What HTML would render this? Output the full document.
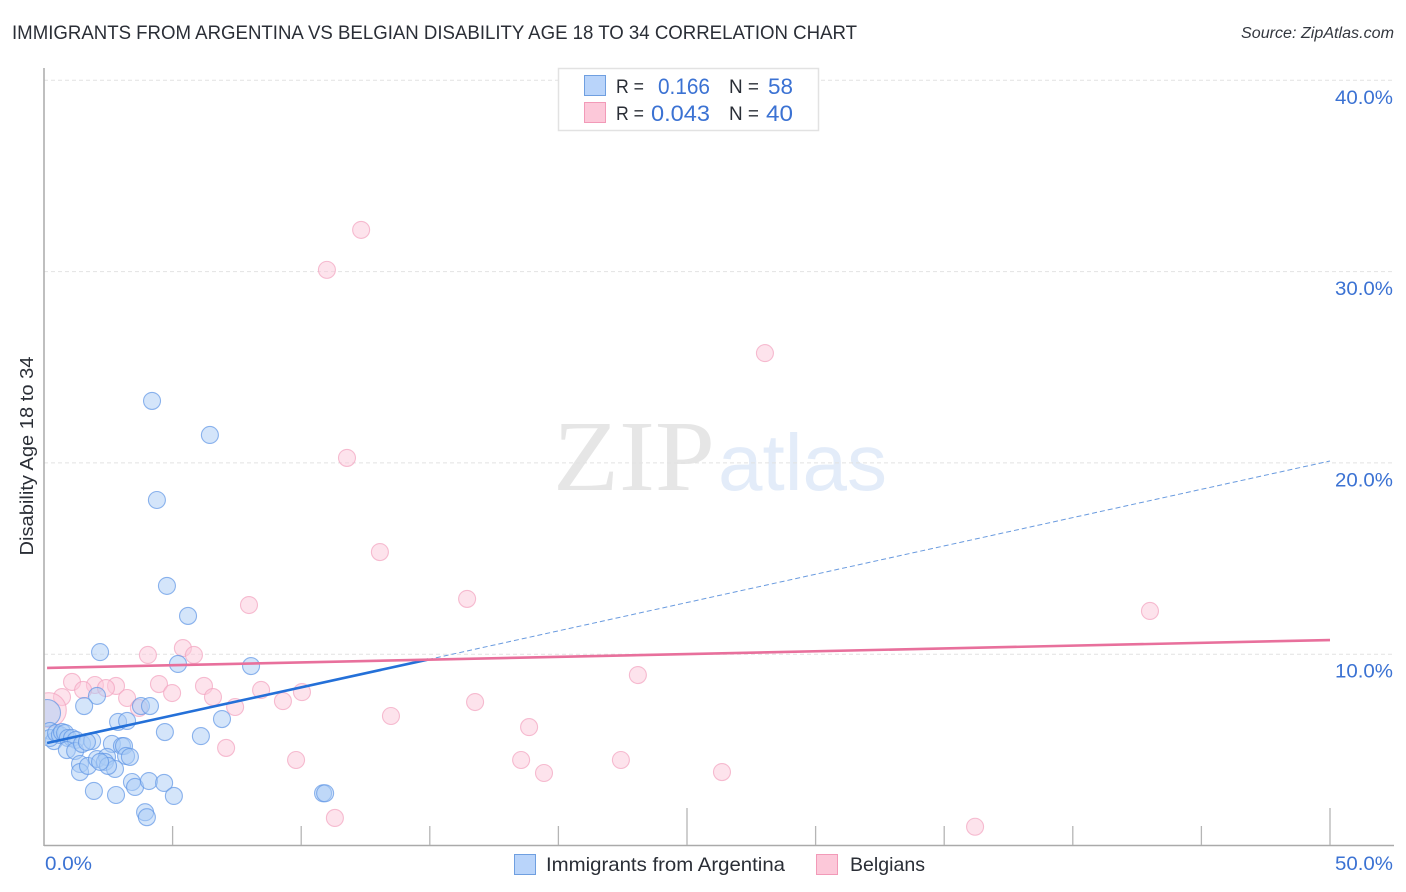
<!DOCTYPE html>
<html lang="en">
<head>
<meta charset="utf-8">
<title>Immigrants from Argentina vs Belgian Disability Age 18 to 34 Correlation Chart</title>
<style>
html,body{margin:0;padding:0;background:#fff;width:1406px;height:892px;overflow:hidden}
svg{display:block}
text{font-family:"Liberation Sans",sans-serif}
</style>
</head>
<body>
<svg id="chart" xmlns="http://www.w3.org/2000/svg" width="1406" height="892" viewBox="0 0 1406 892">
  <defs>
    <clipPath id="plot-clip"><rect x="45" y="60" width="1350" height="786"/></clipPath>
  </defs>
  <rect x="0" y="0" width="1406" height="892" fill="#ffffff"/>
  <text x="12" y="39" font-size="19" fill="#2a2e36" textLength="845" lengthAdjust="spacingAndGlyphs">IMMIGRANTS FROM ARGENTINA VS BELGIAN DISABILITY AGE 18 TO 34 CORRELATION CHART</text>
  <text x="1394" y="38" font-size="15.5" font-style="italic" fill="#33373f" text-anchor="end" textLength="153" lengthAdjust="spacingAndGlyphs">Source: ZipAtlas.com</text>
  <g id="watermark">
    <text x="553" y="490" font-size="101" fill="#e6e6e6" textLength="162" lengthAdjust="spacingAndGlyphs" style="font-family:'Liberation Serif',serif">ZIP</text>
    <text x="718" y="490" font-size="80" fill="#e3ecf9" textLength="169" lengthAdjust="spacingAndGlyphs">atlas</text>
  </g>
  <g id="grid"></g>
  <g id="axes"></g>
  <g id="points" clip-path="url(#plot-clip)"></g>
  <g id="trends"></g>
  <g id="labels"></g>
  <text transform="translate(33,456) rotate(-90)" font-size="18.5" fill="#2a2e36" text-anchor="middle" textLength="199" lengthAdjust="spacingAndGlyphs">Disability Age 18 to 34</text>

  <g>
    <rect x="558.5" y="68.5" width="260" height="62" fill="#ffffff" stroke="#e2e2e2" stroke-width="1.5"/>
    <rect x="584.5" y="75.5" width="21" height="20" fill="#b9d4fa" stroke="#6f9fe0" stroke-width="1"/>
    <rect x="584.5" y="102.5" width="21" height="20" fill="#fcc8d9" stroke="#f29ab8" stroke-width="1"/>
    <text x="616" y="93" font-size="19" fill="#2a2e36" textLength="28" lengthAdjust="spacingAndGlyphs">R =</text>
    <text x="710" y="94" font-size="22" fill="#3b72d3" text-anchor="end" textLength="52" lengthAdjust="spacingAndGlyphs">0.166</text>
    <text x="729" y="93" font-size="19" fill="#2a2e36" textLength="30" lengthAdjust="spacingAndGlyphs">N =</text>
    <text x="793" y="94" font-size="22" fill="#3b72d3" text-anchor="end" textLength="25" lengthAdjust="spacingAndGlyphs">58</text>
    <text x="616" y="120" font-size="19" fill="#2a2e36" textLength="28" lengthAdjust="spacingAndGlyphs">R =</text>
    <text x="710" y="121" font-size="22" fill="#3b72d3" text-anchor="end" textLength="59" lengthAdjust="spacingAndGlyphs">0.043</text>
    <text x="729" y="120" font-size="19" fill="#2a2e36" textLength="30" lengthAdjust="spacingAndGlyphs">N =</text>
    <text x="793" y="121" font-size="22" fill="#3b72d3" text-anchor="end" textLength="27" lengthAdjust="spacingAndGlyphs">40</text>
  </g>

  <g>
    <rect x="514.5" y="854.5" width="21" height="20" fill="#b9d4fa" stroke="#6f9fe0" stroke-width="1"/>
    <text x="546" y="871" font-size="19.5" fill="#2a2e36" textLength="239" lengthAdjust="spacingAndGlyphs">Immigrants from Argentina</text>
    <rect x="816.5" y="854.5" width="21" height="20" fill="#fcc8d9" stroke="#f29ab8" stroke-width="1"/>
    <text x="850" y="871" font-size="19.5" fill="#2a2e36" textLength="75" lengthAdjust="spacingAndGlyphs">Belgians</text>
  </g>
</svg>
<script>
const xTicks = [0, 5, 10, 15, 20, 25, 30, 35, 40, 45, 50];
const xMajorTicks = [0, 25, 50];
const xTickLabels = ["0.0%", "50.0%"];
const yTicks = [10, 20, 30, 40];
const yTickLabels = ["10.0%", "20.0%", "30.0%", "40.0%"];

const argentinaX = [4.20,6.45,4.39,4.78,5.60,2.18,5.21,8.05,2.06,1.56,3.77,4.12,2.88,3.23,6.92,4.70,6.10,0.12,0.23,0.39,0.23,0.47,0.62,0.70,0.82,0.93,1.09,1.24,0.89,1.21,1.48,1.87,1.67,1.40,1.40,1.71,2.64,3.03,3.11,3.19,3.34,2.06,2.45,2.37,2.76,2.49,2.18,3.42,3.54,4.08,4.67,5.05,1.94,2.80,3.93,4.00,10.85,10.93];
const argentinaY = [23.24,21.46,18.06,13.57,12.00,10.11,9.49,9.38,7.82,7.29,7.29,7.29,6.46,6.51,6.61,5.93,5.72,6.93,5.99,5.46,5.62,5.88,5.78,5.93,5.88,5.62,5.62,5.52,4.99,4.94,5.31,5.46,5.41,4.26,3.84,4.16,5.31,5.20,5.20,4.68,4.63,4.52,4.63,4.37,4.00,4.16,4.37,3.32,3.06,3.37,3.27,2.59,2.85,2.64,1.74,1.48,2.73,2.73];
const argentinaWeight = [1,1,1,1,1,1,1,1,1,1,1,1,1,1,1,1,1,2.5,1,1,1,1,1,1,1,1,1,1,1,1,1,1,1,1,1,1,1,1,1,1,1,1,1,1,1,1,1,1,1,1,1,1,1,1,1,1,1,1];

const belgiansX = [12.33,11.00,28.03,11.78,13.06,16.45,43.00,7.97,5.40,5.83,4.04,23.09,4.47,1.09,1.98,2.80,2.41,1.52,0.70,3.23,4.98,6.22,6.57,7.43,8.44,9.29,10.03,3.69,16.76,13.49,18.86,7.08,9.80,18.55,22.43,19.44,26.36,11.31,36.20,0.19];
const belgiansY = [32.18,30.09,25.74,20.26,15.34,12.89,12.26,12.57,10.32,9.96,9.96,8.91,8.44,8.55,8.39,8.34,8.23,8.13,7.76,7.71,7.97,8.34,7.76,7.24,8.13,7.55,8.02,7.19,7.50,6.77,6.19,5.10,4.47,4.47,4.47,3.79,3.84,1.44,0.98,7.08];
const belgiansWeight = [1,1,1,1,1,1,1,1,1,1,1,1,1,1,1,1,1,1,1,1,1,1,1,1,1,1,1,1,1,1,1,1,1,1,1,1,1,1,1,4.2];

const argentinaTrendX = [0.12, 14.93, 50];
const argentinaTrendY = [5.36, 9.72, 20.1];
const belgiansTrendX = [0.12, 50];
const belgiansTrendY = [9.28, 10.74];

const SVG_NS = "http://www.w3.org/2000/svg";
function xScale(v) { return 44 + v * 25.72; }
function yScale(v) { return 845.5 - v * 19.13; }
function make(tag, parent, attrs) {
  const el = document.createElementNS(SVG_NS, tag);
  for (const k in attrs) el.setAttribute(k, attrs[k]);
  parent.appendChild(el);
  return el;
}
const gridG = document.getElementById("grid");
const axesG = document.getElementById("axes");
const pointsG = document.getElementById("points");
const trendsG = document.getElementById("trends");
const labelsG = document.getElementById("labels");

yTicks.forEach(function (t, i) {
  const line = make("line", gridG, {x1: 44, x2: 1394, y1: yScale(t), y2: yScale(t), stroke: "#e2e2e2", "stroke-width": 1, "stroke-dasharray": "4 3"});
  
  
  const label = make("text", labelsG, {x: 1393, y: yScale(t) + 23.5, "font-size": 19.5, fill: "#3b72d3", "text-anchor": "end", textLength: 58, lengthAdjust: "spacingAndGlyphs"});
  label.textContent = yTickLabels[i];
  
  
});

const yAxis = make("line", axesG, {x1: 44, x2: 44, y1: 68, y2: 846, stroke: "#aaaaaa", "stroke-width": 1.5});


const xAxis = make("line", axesG, {x1: 44, x2: 1394, y1: 845.5, y2: 845.5, stroke: "#aaaaaa", "stroke-width": 1.5});



xTicks.forEach(function (t) {
  const major = xMajorTicks.indexOf(t) >= 0;
  if (t === 0) return;
  const tick = make("line", axesG, {x1: xScale(t), x2: xScale(t), y1: major ? 808 : 826, y2: 845, stroke: "#b5b5b5", "stroke-width": 1.3});
  
  
});

const x0 = make("text", labelsG, {x: 45, y: 870, "font-size": 19.5, fill: "#3b72d3", textLength: 47, lengthAdjust: "spacingAndGlyphs"});
x0.textContent = xTickLabels[0];


const x1 = make("text", labelsG, {x: 1393, y: 870, "font-size": 19.5, fill: "#3b72d3", "text-anchor": "end", textLength: 58, lengthAdjust: "spacingAndGlyphs"});
x1.textContent = xTickLabels[1];



function drawSeries(xs, ys, weights, fill, stroke) {
  xs.forEach(function (v, i) {
    const c = make("circle", pointsG, {cx: xScale(v), cy: yScale(ys[i]), r: 8.5 * Math.sqrt(weights[i]), fill: fill, "fill-opacity": 0.5, stroke: stroke, "stroke-opacity": 0.7, "stroke-width": 1.1});
    
    
  });
}
drawSeries(belgiansX, belgiansY, belgiansWeight, "#fcc8d9", "#f2a2bf");
drawSeries(argentinaX, argentinaY, argentinaWeight, "#a9cbf6", "#5f96e6");

const blueSolid = make("line", trendsG, {x1: xScale(argentinaTrendX[0]), y1: yScale(argentinaTrendY[0]), x2: xScale(argentinaTrendX[1]), y2: yScale(argentinaTrendY[1]), stroke: "#2470d8", "stroke-width": 2.6});


const blueDash = make("line", trendsG, {x1: xScale(argentinaTrendX[1]), y1: yScale(argentinaTrendY[1]), x2: xScale(argentinaTrendX[2]), y2: yScale(argentinaTrendY[2]), stroke: "#6a9bdf", "stroke-width": 1, "stroke-dasharray": "5 3"});


const pinkLine = make("line", trendsG, {x1: xScale(belgiansTrendX[0]), y1: yScale(belgiansTrendY[0]), x2: xScale(belgiansTrendX[1]), y2: yScale(belgiansTrendY[1]), stroke: "#e8709c", "stroke-width": 2.6});


</script>
</body>
</html>
